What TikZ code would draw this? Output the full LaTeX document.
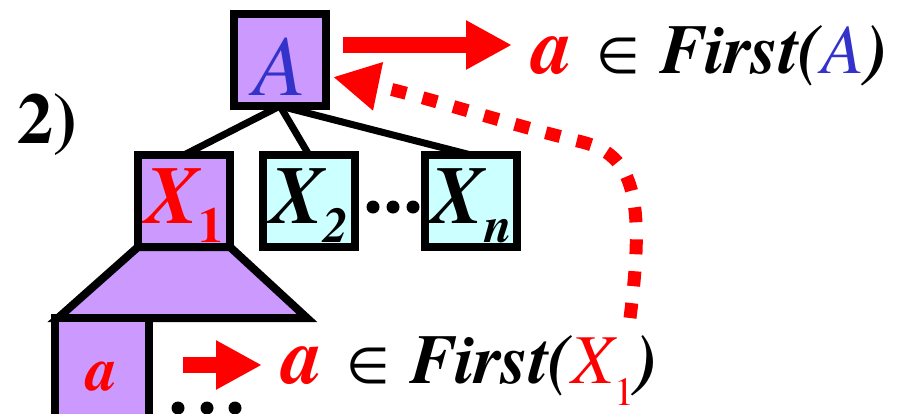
\documentclass[tikz,border=0pt]{standalone}
\usepackage{fontspec}
\setmainfont{texgyretermes}[
  Extension=.otf,
  UprightFont=*-regular,
  BoldFont=*-bold,
  ItalicFont=*-italic,
  BoldItalicFont=*-bolditalic]
\newfontfamily\symfont{DejaVu Sans}
\usetikzlibrary{arrows.meta,backgrounds}
\definecolor{ntpurple}{HTML}{CC99FF}
\definecolor{tcyan}{HTML}{CCFFFF}
\definecolor{ntblue}{HTML}{3333CC}
\newcommand\fs[1]{\fontsize{#1}{#1}\selectfont}
\newcommand\lowered[2]{\raisebox{-#1}[0pt][0pt]{#2}}
\newcommand\infirst[1]{%
  {\color{red}\fs{80}\bfseries\itshape a}\hspace{24pt}%
  {\symfont\fs{50}∈}\hspace{21pt}%
  {\fs{70}\bfseries\itshape First(}#1{\fs{70}\bfseries\itshape )}}

\begin{document}
\begin{tikzpicture}[x=1pt, y=-1pt,
  every node/.style={inner sep=0pt, outer sep=0pt},
  box/.style={draw, line width=8pt, minimum width=92pt, minimum height=92pt},
  ntbox/.style={box, fill=ntpurple},
  tbox/.style={box, fill=tcyan},
  branch/.style={line width=7pt},
  fatarrow/.style={red, line width=16pt, -{Triangle[length=46pt,width=46pt]}},
  backarrow/.style={red, line width=13pt, dash pattern=on 15pt off 17pt,
    -{Triangle[length=46pt,width=46pt]}}]
  \useasboundingbox (0,0) rectangle (900,413);

  \node[anchor=base west] (num) at (17,143) {\fs{72}\bfseries 2)};

  \node[ntbox] (A) at (280,60) {\lowered{35pt}{\color{ntblue}\fs{86}\itshape A}};
  \node[ntbox] (X1) at (184,201) {\lowered{22pt}{\color{red}\fs{82}\bfseries\itshape
    X\raisebox{-19pt}{\upshape\fs{50}1}}};
  \node[tbox] (X2) at (309,201) {\lowered{22pt}{\fs{82}\bfseries\itshape
    X\raisebox{-19pt}{\fs{50}2}}};
  \node[tbox] (Xn) at (471,201) {\lowered{22pt}{\fs{82}\bfseries\itshape
    X\raisebox{-19pt}{\fs{50}n}}};
  \fill (373,207) circle (6.5pt) (393,207) circle (6.5pt) (413,207) circle (6.5pt);

  \begin{scope}[on background layer]
    \draw[branch] (A.south) -- (X1.north);
    \draw[branch] (A.south) -- (X2.north);
    \draw[branch] (A.south) -- (Xn.north);
  \end{scope}

  % subtree of X1
  \draw[line width=8pt, fill=ntpurple] (X1.south west) -- (X1.south east)
    -- (307,318) -- (58,318) -- cycle;
  \node[ntbox, minimum width=94pt, minimum height=100pt] (a) at (102,368)
    {\lowered{22pt}{\color{red}\fs{62}\bfseries\itshape a}};
  \fill (178,408) circle (6.5pt) (207,408) circle (6.5pt) (235,408) circle (6.5pt);

  \node[anchor=base west] (inA) at (532,73)
    {\infirst{{\color{ntblue}\fs{70}\itshape A}}};
  \node[anchor=base west] (inX) at (282,383)
    {\infirst{{\color{red}\fs{70}\itshape X\raisebox{-22pt}{\upshape\fs{40}1}}}};

  \draw[fatarrow] ([xshift=17pt,yshift=15pt]A.east)
    -- ([xshift=-20pt,yshift=15pt]A.east -| inA.west);
  \draw[fatarrow] ([xshift=34pt,yshift=3pt]a.east)
    -- ([xshift=-20pt,yshift=3pt]a.east -| inX.west);

  \coordinate (foot) at (630,318);
  \coordinate (bend) at (582,142);
  \draw[backarrow] (foot) .. controls (645,200) and (635,155) .. (bend)
    .. controls (500,122) and (420,95) .. ([xshift=7pt,yshift=-17pt]A.east);
\end{tikzpicture}
\end{document}
